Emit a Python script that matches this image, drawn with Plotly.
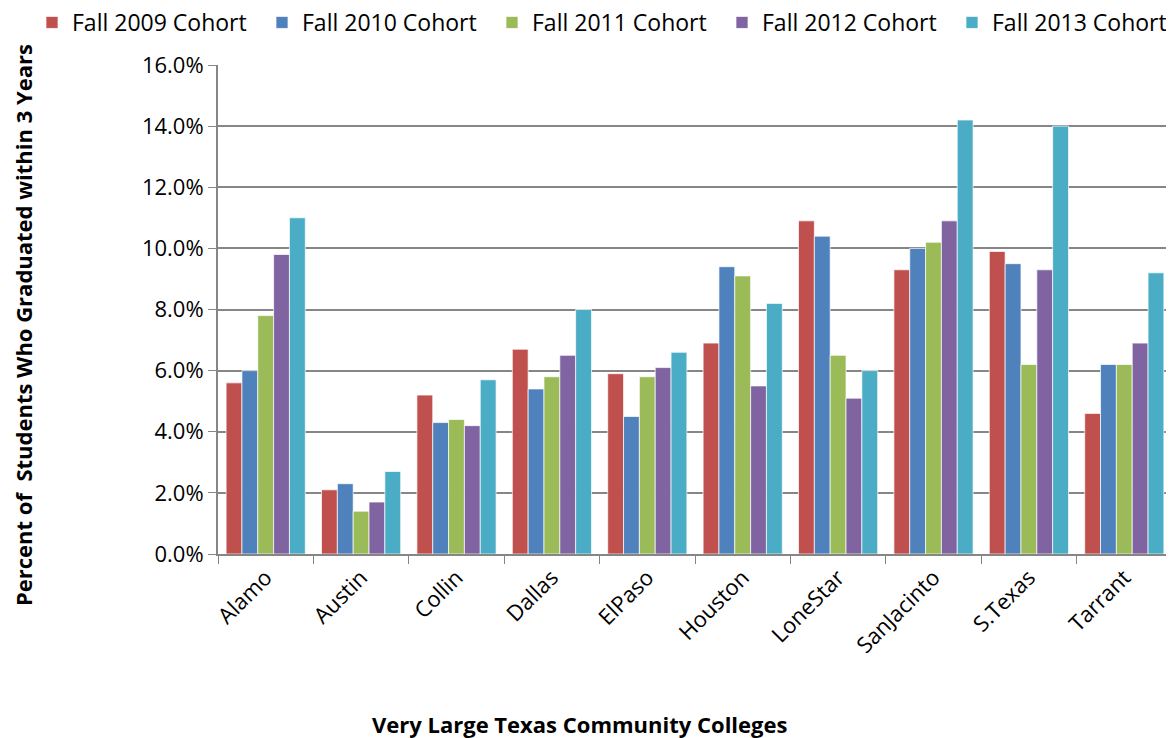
import plotly.graph_objects as go

colleges = ["Alamo", "Austin", "Collin", "Dallas", "ElPaso", "Houston", "LoneStar", "SanJacinto", "S.Texas", "Tarrant"]
fall_2009 = [5.6, 2.1, 5.2, 6.7, 5.9, 6.9, 10.9, 9.3, 9.9, 4.6]
fall_2010 = [6.0, 2.3, 4.3, 5.4, 4.5, 9.4, 10.4, 10.0, 9.5, 6.2]
fall_2011 = [7.8, 1.4, 4.4, 5.8, 5.8, 9.1, 6.5, 10.2, 6.2, 6.2]
fall_2012 = [9.8, 1.7, 4.2, 6.5, 6.1, 5.5, 5.1, 10.9, 9.3, 6.9]
fall_2013 = [11.0, 2.7, 5.7, 8.0, 6.6, 8.2, 6.0, 14.2, 14.0, 9.2]

series = [
    ("Fall 2009 Cohort", fall_2009, "#C0504D"),
    ("Fall 2010 Cohort", fall_2010, "#4F81BD"),
    ("Fall 2011 Cohort", fall_2011, "#9BBB59"),
    ("Fall 2012 Cohort", fall_2012, "#8064A2"),
    ("Fall 2013 Cohort", fall_2013, "#4BACC6"),
]

font = "Open Sans"
fig = go.Figure()
for name, vals, color in series:
    fig.add_trace(go.Bar(
        x=colleges, y=[v / 100 for v in vals], name=name,
        marker=dict(color=color, line=dict(color="rgba(255,255,255,0.7)", width=1)),
    ))

# page body has an 8px margin; figure is sized/offset to compensate
PL, PR, PT, PB = 218, 1172, 65, 554
pw, ph = PR - PL, PB - PT

fig.update_layout(
    width=1166, height=730,
    barmode="group", bargap=0.17, bargroupgap=0,
    plot_bgcolor="white", paper_bgcolor="white",
    margin=dict(l=PL - 8, r=1166 - (PL - 8) - pw, t=PT - 8, b=730 - (PT - 8) - ph,
                autoexpand=False),
    font=dict(family=font, color="black"),
    legend=dict(orientation="h", xref="paper", yref="paper",
                x=(32 - PL) / pw, y=(PB - 1) / ph, xanchor="left", yanchor="top",
                font=dict(size=23, family=font), itemwidth=30,
                entrywidth=185, entrywidthmode="pixels",
                traceorder="normal"),
    xaxis=dict(showline=True, linecolor="#868686", linewidth=2,
               ticks="outside", tickson="boundaries", ticklen=8, tickcolor="#868686",
               tickangle=-45, tickfont=dict(size=22, family=font)),
    yaxis=dict(range=[0, 0.16], dtick=0.02, tickformat=".1%",
               showgrid=True, gridcolor="#868686", gridwidth=2,
               showline=True, linecolor="#868686", linewidth=2,
               ticks="outside", ticklen=8, tickcolor="#868686",
               tickfont=dict(size=22, family=font), zeroline=False),
    annotations=[
        dict(text="<b>Very Large Texas Community Colleges</b>", xref="paper", yref="paper",
             x=(579.5 - PL) / pw, y=(PB - 724) / ph,
             xanchor="center", yanchor="middle", showarrow=False,
             font=dict(size=22, family=font)),
        dict(text="<b>Percent of\u00a0 Students Who Graduated within 3 Years</b>", xref="paper", yref="paper",
             x=(23 - PL) / pw, y=(PB - 325) / ph, textangle=-90,
             xanchor="center", yanchor="middle", showarrow=False,
             font=dict(size=22, family=font)),
    ],
)

fig.write_html("out.html")
